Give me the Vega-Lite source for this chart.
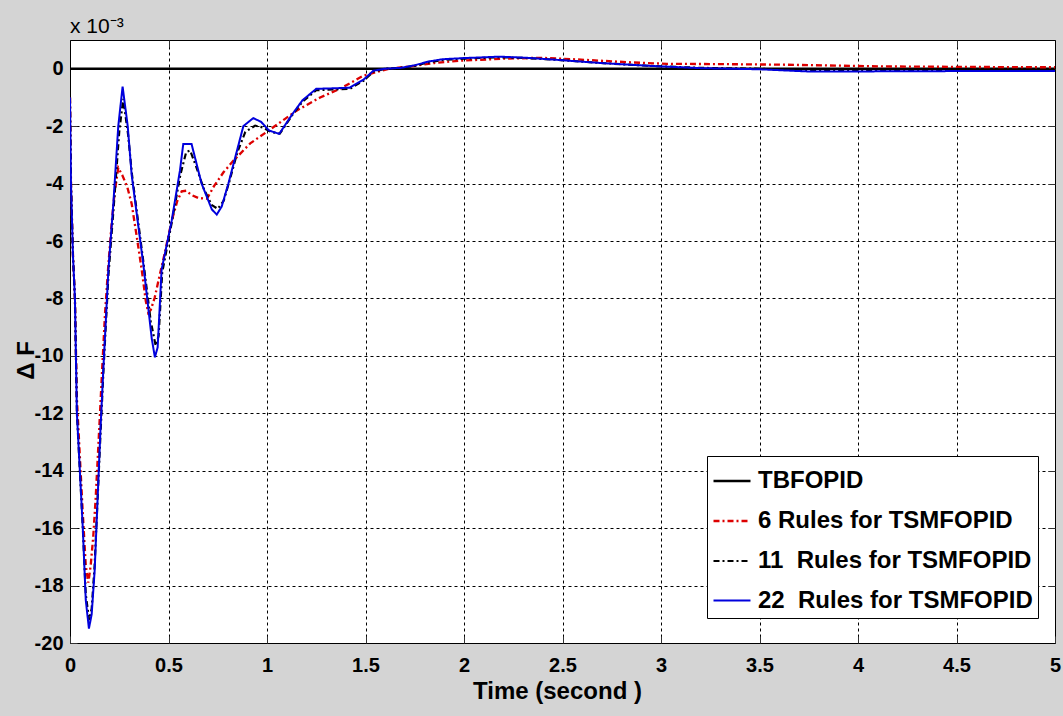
{
  "$schema": "https://vega.github.io/schema/vega-lite/v6.json",
  "width": 985,
  "height": 603,
  "autosize": {"type": "none"},
  "padding": {"left": 70, "top": 40, "right": 8, "bottom": 73},
  "background": "#d4d4d4",
  "title": {
    "text": "x 10⁻³",
    "anchor": "start",
    "frame": "group",
    "baseline": "alphabetic",
    "offset": 7,
    "dy": 21,
    "font": "Liberation Sans, Arial, sans-serif",
    "fontSize": 21,
    "fontWeight": "normal",
    "color": "black"
  },
  "config": {
    "view": {"fill": "white", "stroke": "black", "strokeWidth": 1},
    "axis": {
      "domain": false,
      "grid": true,
      "gridColor": "black",
      "gridDash": [3, 3],
      "gridOpacity": 1,
      "gridWidth": 1,
      "ticks": true,
      "tickColor": "#333333",
      "tickSize": -7,
      "tickWidth": 1,
      "labelFont": "Liberation Sans, Arial, sans-serif",
      "labelFontWeight": "bold",
      "labelFontSize": 20,
      "labelColor": "black",
      "titleFont": "Liberation Sans, Arial, sans-serif",
      "titleFontWeight": "bold",
      "titleFontSize": 24,
      "titleColor": "black"
    },
    "legend": {
      "orient": "none",
      "legendX": 637,
      "legendY": 416,
      "fillColor": "white",
      "strokeColor": "black",
      "padding": 5,
      "symbolType": "stroke",
      "symbolSize": 1369,
      "rowPadding": 8,
      "labelOffset": 6,
      "labelLimit": 500,
      "labelFont": "Liberation Sans, Arial, sans-serif",
      "labelFontWeight": "bold",
      "labelFontSize": 24,
      "labelColor": "black"
    }
  },
  "data": {
    "values": [
      {"s": "TBFOPID", "t": 0, "v": 0},
      {"s": "TBFOPID", "t": 1, "v": 0},
      {"s": "TBFOPID", "t": 2, "v": 0},
      {"s": "TBFOPID", "t": 3, "v": 0},
      {"s": "TBFOPID", "t": 4, "v": 0},
      {"s": "TBFOPID", "t": 5, "v": 0},

      {"s": "6 Rules for TSMFOPID", "t": 0, "v": -1.0},
      {"s": "6 Rules for TSMFOPID", "t": 0.005, "v": -4},
      {"s": "6 Rules for TSMFOPID", "t": 0.015, "v": -6.5},
      {"s": "6 Rules for TSMFOPID", "t": 0.025, "v": -8},
      {"s": "6 Rules for TSMFOPID", "t": 0.035, "v": -11.5},
      {"s": "6 Rules for TSMFOPID", "t": 0.05, "v": -13.5},
      {"s": "6 Rules for TSMFOPID", "t": 0.065, "v": -15.5},
      {"s": "6 Rules for TSMFOPID", "t": 0.08, "v": -17.3},
      {"s": "6 Rules for TSMFOPID", "t": 0.093, "v": -17.9},
      {"s": "6 Rules for TSMFOPID", "t": 0.105, "v": -17.3},
      {"s": "6 Rules for TSMFOPID", "t": 0.118, "v": -16.3},
      {"s": "6 Rules for TSMFOPID", "t": 0.13, "v": -15},
      {"s": "6 Rules for TSMFOPID", "t": 0.145, "v": -13},
      {"s": "6 Rules for TSMFOPID", "t": 0.163, "v": -10.5},
      {"s": "6 Rules for TSMFOPID", "t": 0.178, "v": -8.5},
      {"s": "6 Rules for TSMFOPID", "t": 0.193, "v": -7},
      {"s": "6 Rules for TSMFOPID", "t": 0.21, "v": -5.5},
      {"s": "6 Rules for TSMFOPID", "t": 0.225, "v": -4.4},
      {"s": "6 Rules for TSMFOPID", "t": 0.245, "v": -3.45},
      {"s": "6 Rules for TSMFOPID", "t": 0.265, "v": -3.7},
      {"s": "6 Rules for TSMFOPID", "t": 0.29, "v": -4.1},
      {"s": "6 Rules for TSMFOPID", "t": 0.313, "v": -4.7},
      {"s": "6 Rules for TSMFOPID", "t": 0.34, "v": -5.9},
      {"s": "6 Rules for TSMFOPID", "t": 0.364, "v": -7.0},
      {"s": "6 Rules for TSMFOPID", "t": 0.385, "v": -8.1},
      {"s": "6 Rules for TSMFOPID", "t": 0.397, "v": -8.5},
      {"s": "6 Rules for TSMFOPID", "t": 0.41, "v": -8.4},
      {"s": "6 Rules for TSMFOPID", "t": 0.43, "v": -7.97},
      {"s": "6 Rules for TSMFOPID", "t": 0.455, "v": -7.2},
      {"s": "6 Rules for TSMFOPID", "t": 0.48, "v": -6.45},
      {"s": "6 Rules for TSMFOPID", "t": 0.516, "v": -5.3},
      {"s": "6 Rules for TSMFOPID", "t": 0.545, "v": -4.6},
      {"s": "6 Rules for TSMFOPID", "t": 0.567, "v": -4.27},
      {"s": "6 Rules for TSMFOPID", "t": 0.59, "v": -4.25},
      {"s": "6 Rules for TSMFOPID", "t": 0.617, "v": -4.4},
      {"s": "6 Rules for TSMFOPID", "t": 0.65, "v": -4.5},
      {"s": "6 Rules for TSMFOPID", "t": 0.695, "v": -4.53},
      {"s": "6 Rules for TSMFOPID", "t": 0.73, "v": -4.1},
      {"s": "6 Rules for TSMFOPID", "t": 0.78, "v": -3.6},
      {"s": "6 Rules for TSMFOPID", "t": 0.83, "v": -3.2},
      {"s": "6 Rules for TSMFOPID", "t": 0.915, "v": -2.6},
      {"s": "6 Rules for TSMFOPID", "t": 1.03, "v": -2.05},
      {"s": "6 Rules for TSMFOPID", "t": 1.15, "v": -1.46},
      {"s": "6 Rules for TSMFOPID", "t": 1.27, "v": -1.0},
      {"s": "6 Rules for TSMFOPID", "t": 1.37, "v": -0.7},
      {"s": "6 Rules for TSMFOPID", "t": 1.49, "v": -0.24},
      {"s": "6 Rules for TSMFOPID", "t": 1.62, "v": 0.0},
      {"s": "6 Rules for TSMFOPID", "t": 1.75, "v": 0.1},
      {"s": "6 Rules for TSMFOPID", "t": 1.85, "v": 0.2},
      {"s": "6 Rules for TSMFOPID", "t": 1.98, "v": 0.28},
      {"s": "6 Rules for TSMFOPID", "t": 2.2, "v": 0.35},
      {"s": "6 Rules for TSMFOPID", "t": 2.39, "v": 0.38},
      {"s": "6 Rules for TSMFOPID", "t": 2.55, "v": 0.33},
      {"s": "6 Rules for TSMFOPID", "t": 2.69, "v": 0.28},
      {"s": "6 Rules for TSMFOPID", "t": 2.85, "v": 0.22},
      {"s": "6 Rules for TSMFOPID", "t": 3.03, "v": 0.17},
      {"s": "6 Rules for TSMFOPID", "t": 3.3, "v": 0.16},
      {"s": "6 Rules for TSMFOPID", "t": 3.62, "v": 0.14},
      {"s": "6 Rules for TSMFOPID", "t": 4.13, "v": 0.08},
      {"s": "6 Rules for TSMFOPID", "t": 4.6, "v": 0.06},
      {"s": "6 Rules for TSMFOPID", "t": 5, "v": 0.05},

      {"s": "11\u00a0 Rules for TSMFOPID", "t": 0, "v": -1.0},
      {"s": "11\u00a0 Rules for TSMFOPID", "t": 0.005, "v": -4},
      {"s": "11\u00a0 Rules for TSMFOPID", "t": 0.015, "v": -6.5},
      {"s": "11\u00a0 Rules for TSMFOPID", "t": 0.025, "v": -8},
      {"s": "11\u00a0 Rules for TSMFOPID", "t": 0.035, "v": -12},
      {"s": "11\u00a0 Rules for TSMFOPID", "t": 0.05, "v": -14},
      {"s": "11\u00a0 Rules for TSMFOPID", "t": 0.065, "v": -16},
      {"s": "11\u00a0 Rules for TSMFOPID", "t": 0.08, "v": -18.3},
      {"s": "11\u00a0 Rules for TSMFOPID", "t": 0.097, "v": -19.2},
      {"s": "11\u00a0 Rules for TSMFOPID", "t": 0.11, "v": -18.8},
      {"s": "11\u00a0 Rules for TSMFOPID", "t": 0.125, "v": -17.3},
      {"s": "11\u00a0 Rules for TSMFOPID", "t": 0.14, "v": -15},
      {"s": "11\u00a0 Rules for TSMFOPID", "t": 0.155, "v": -12.7},
      {"s": "11\u00a0 Rules for TSMFOPID", "t": 0.17, "v": -10.5},
      {"s": "11\u00a0 Rules for TSMFOPID", "t": 0.195, "v": -7.2},
      {"s": "11\u00a0 Rules for TSMFOPID", "t": 0.222, "v": -4.8},
      {"s": "11\u00a0 Rules for TSMFOPID", "t": 0.25, "v": -2.2},
      {"s": "11\u00a0 Rules for TSMFOPID", "t": 0.27, "v": -1.05},
      {"s": "11\u00a0 Rules for TSMFOPID", "t": 0.295, "v": -2.3},
      {"s": "11\u00a0 Rules for TSMFOPID", "t": 0.315, "v": -3.7},
      {"s": "11\u00a0 Rules for TSMFOPID", "t": 0.372, "v": -6.7},
      {"s": "11\u00a0 Rules for TSMFOPID", "t": 0.41, "v": -8.8},
      {"s": "11\u00a0 Rules for TSMFOPID", "t": 0.435, "v": -9.65},
      {"s": "11\u00a0 Rules for TSMFOPID", "t": 0.45, "v": -9.3},
      {"s": "11\u00a0 Rules for TSMFOPID", "t": 0.468, "v": -7.1},
      {"s": "11\u00a0 Rules for TSMFOPID", "t": 0.518, "v": -5.3},
      {"s": "11\u00a0 Rules for TSMFOPID", "t": 0.56, "v": -3.7},
      {"s": "11\u00a0 Rules for TSMFOPID", "t": 0.59, "v": -2.9},
      {"s": "11\u00a0 Rules for TSMFOPID", "t": 0.61, "v": -2.85},
      {"s": "11\u00a0 Rules for TSMFOPID", "t": 0.64, "v": -3.4},
      {"s": "11\u00a0 Rules for TSMFOPID", "t": 0.68, "v": -4.2},
      {"s": "11\u00a0 Rules for TSMFOPID", "t": 0.72, "v": -4.75},
      {"s": "11\u00a0 Rules for TSMFOPID", "t": 0.75, "v": -4.88},
      {"s": "11\u00a0 Rules for TSMFOPID", "t": 0.78, "v": -4.6},
      {"s": "11\u00a0 Rules for TSMFOPID", "t": 0.81, "v": -3.9},
      {"s": "11\u00a0 Rules for TSMFOPID", "t": 0.85, "v": -2.9},
      {"s": "11\u00a0 Rules for TSMFOPID", "t": 0.89, "v": -2.2},
      {"s": "11\u00a0 Rules for TSMFOPID", "t": 0.94, "v": -1.98},
      {"s": "11\u00a0 Rules for TSMFOPID", "t": 0.98, "v": -2.05},
      {"s": "11\u00a0 Rules for TSMFOPID", "t": 1.02, "v": -2.2},
      {"s": "11\u00a0 Rules for TSMFOPID", "t": 1.065, "v": -2.26},
      {"s": "11\u00a0 Rules for TSMFOPID", "t": 1.13, "v": -1.6},
      {"s": "11\u00a0 Rules for TSMFOPID", "t": 1.18, "v": -1.15},
      {"s": "11\u00a0 Rules for TSMFOPID", "t": 1.25, "v": -0.75},
      {"s": "11\u00a0 Rules for TSMFOPID", "t": 1.35, "v": -0.72},
      {"s": "11\u00a0 Rules for TSMFOPID", "t": 1.42, "v": -0.7},
      {"s": "11\u00a0 Rules for TSMFOPID", "t": 1.49, "v": -0.42},
      {"s": "11\u00a0 Rules for TSMFOPID", "t": 1.54, "v": -0.1},
      {"s": "11\u00a0 Rules for TSMFOPID", "t": 1.6, "v": 0.0},
      {"s": "11\u00a0 Rules for TSMFOPID", "t": 1.68, "v": 0.03},
      {"s": "11\u00a0 Rules for TSMFOPID", "t": 1.75, "v": 0.1},
      {"s": "11\u00a0 Rules for TSMFOPID", "t": 1.82, "v": 0.22},
      {"s": "11\u00a0 Rules for TSMFOPID", "t": 1.9, "v": 0.31},
      {"s": "11\u00a0 Rules for TSMFOPID", "t": 2.0, "v": 0.35},
      {"s": "11\u00a0 Rules for TSMFOPID", "t": 2.18, "v": 0.4},
      {"s": "11\u00a0 Rules for TSMFOPID", "t": 2.32, "v": 0.37},
      {"s": "11\u00a0 Rules for TSMFOPID", "t": 2.49, "v": 0.3},
      {"s": "11\u00a0 Rules for TSMFOPID", "t": 2.69, "v": 0.2},
      {"s": "11\u00a0 Rules for TSMFOPID", "t": 2.94, "v": 0.1},
      {"s": "11\u00a0 Rules for TSMFOPID", "t": 3.2, "v": 0.03},
      {"s": "11\u00a0 Rules for TSMFOPID", "t": 3.5, "v": 0.0},
      {"s": "11\u00a0 Rules for TSMFOPID", "t": 3.8, "v": -0.06},
      {"s": "11\u00a0 Rules for TSMFOPID", "t": 4.2, "v": -0.06},
      {"s": "11\u00a0 Rules for TSMFOPID", "t": 4.6, "v": -0.05},
      {"s": "11\u00a0 Rules for TSMFOPID", "t": 5, "v": -0.05},

      {"s": "22\u00a0 Rules for TSMFOPID", "t": 0, "v": -1.0},
      {"s": "22\u00a0 Rules for TSMFOPID", "t": 0.005, "v": -4},
      {"s": "22\u00a0 Rules for TSMFOPID", "t": 0.015, "v": -6.5},
      {"s": "22\u00a0 Rules for TSMFOPID", "t": 0.025, "v": -8},
      {"s": "22\u00a0 Rules for TSMFOPID", "t": 0.035, "v": -12},
      {"s": "22\u00a0 Rules for TSMFOPID", "t": 0.05, "v": -14},
      {"s": "22\u00a0 Rules for TSMFOPID", "t": 0.065, "v": -16},
      {"s": "22\u00a0 Rules for TSMFOPID", "t": 0.08, "v": -18.5},
      {"s": "22\u00a0 Rules for TSMFOPID", "t": 0.096, "v": -19.5},
      {"s": "22\u00a0 Rules for TSMFOPID", "t": 0.11, "v": -19},
      {"s": "22\u00a0 Rules for TSMFOPID", "t": 0.125, "v": -17.5},
      {"s": "22\u00a0 Rules for TSMFOPID", "t": 0.14, "v": -15},
      {"s": "22\u00a0 Rules for TSMFOPID", "t": 0.155, "v": -12.5},
      {"s": "22\u00a0 Rules for TSMFOPID", "t": 0.169, "v": -10.5},
      {"s": "22\u00a0 Rules for TSMFOPID", "t": 0.195, "v": -7.0},
      {"s": "22\u00a0 Rules for TSMFOPID", "t": 0.22, "v": -4.7},
      {"s": "22\u00a0 Rules for TSMFOPID", "t": 0.245, "v": -2.0},
      {"s": "22\u00a0 Rules for TSMFOPID", "t": 0.267, "v": -0.62},
      {"s": "22\u00a0 Rules for TSMFOPID", "t": 0.293, "v": -2.0},
      {"s": "22\u00a0 Rules for TSMFOPID", "t": 0.313, "v": -3.7},
      {"s": "22\u00a0 Rules for TSMFOPID", "t": 0.372, "v": -6.8},
      {"s": "22\u00a0 Rules for TSMFOPID", "t": 0.415, "v": -9.4},
      {"s": "22\u00a0 Rules for TSMFOPID", "t": 0.431, "v": -10.05},
      {"s": "22\u00a0 Rules for TSMFOPID", "t": 0.445, "v": -9.7},
      {"s": "22\u00a0 Rules for TSMFOPID", "t": 0.465, "v": -7.0},
      {"s": "22\u00a0 Rules for TSMFOPID", "t": 0.516, "v": -5.3},
      {"s": "22\u00a0 Rules for TSMFOPID", "t": 0.558, "v": -3.55},
      {"s": "22\u00a0 Rules for TSMFOPID", "t": 0.575, "v": -2.62},
      {"s": "22\u00a0 Rules for TSMFOPID", "t": 0.617, "v": -2.62},
      {"s": "22\u00a0 Rules for TSMFOPID", "t": 0.668, "v": -4.0},
      {"s": "22\u00a0 Rules for TSMFOPID", "t": 0.72, "v": -4.9},
      {"s": "22\u00a0 Rules for TSMFOPID", "t": 0.745, "v": -5.08},
      {"s": "22\u00a0 Rules for TSMFOPID", "t": 0.77, "v": -4.8},
      {"s": "22\u00a0 Rules for TSMFOPID", "t": 0.804, "v": -4.0},
      {"s": "22\u00a0 Rules for TSMFOPID", "t": 0.88, "v": -2.0},
      {"s": "22\u00a0 Rules for TSMFOPID", "t": 0.93, "v": -1.72},
      {"s": "22\u00a0 Rules for TSMFOPID", "t": 0.97, "v": -1.85},
      {"s": "22\u00a0 Rules for TSMFOPID", "t": 1.01, "v": -2.15},
      {"s": "22\u00a0 Rules for TSMFOPID", "t": 1.062, "v": -2.27},
      {"s": "22\u00a0 Rules for TSMFOPID", "t": 1.13, "v": -1.57},
      {"s": "22\u00a0 Rules for TSMFOPID", "t": 1.18, "v": -1.1},
      {"s": "22\u00a0 Rules for TSMFOPID", "t": 1.25, "v": -0.7},
      {"s": "22\u00a0 Rules for TSMFOPID", "t": 1.35, "v": -0.68},
      {"s": "22\u00a0 Rules for TSMFOPID", "t": 1.42, "v": -0.66},
      {"s": "22\u00a0 Rules for TSMFOPID", "t": 1.49, "v": -0.38},
      {"s": "22\u00a0 Rules for TSMFOPID", "t": 1.54, "v": -0.07},
      {"s": "22\u00a0 Rules for TSMFOPID", "t": 1.6, "v": 0.0},
      {"s": "22\u00a0 Rules for TSMFOPID", "t": 1.68, "v": 0.03},
      {"s": "22\u00a0 Rules for TSMFOPID", "t": 1.75, "v": 0.12},
      {"s": "22\u00a0 Rules for TSMFOPID", "t": 1.82, "v": 0.25},
      {"s": "22\u00a0 Rules for TSMFOPID", "t": 1.89, "v": 0.33},
      {"s": "22\u00a0 Rules for TSMFOPID", "t": 2.0, "v": 0.37},
      {"s": "22\u00a0 Rules for TSMFOPID", "t": 2.18, "v": 0.42},
      {"s": "22\u00a0 Rules for TSMFOPID", "t": 2.32, "v": 0.38},
      {"s": "22\u00a0 Rules for TSMFOPID", "t": 2.49, "v": 0.3},
      {"s": "22\u00a0 Rules for TSMFOPID", "t": 2.69, "v": 0.2},
      {"s": "22\u00a0 Rules for TSMFOPID", "t": 2.94, "v": 0.1},
      {"s": "22\u00a0 Rules for TSMFOPID", "t": 3.2, "v": 0.02},
      {"s": "22\u00a0 Rules for TSMFOPID", "t": 3.5, "v": -0.02},
      {"s": "22\u00a0 Rules for TSMFOPID", "t": 3.76, "v": -0.1},
      {"s": "22\u00a0 Rules for TSMFOPID", "t": 4.2, "v": -0.09},
      {"s": "22\u00a0 Rules for TSMFOPID", "t": 4.6, "v": -0.08},
      {"s": "22\u00a0 Rules for TSMFOPID", "t": 5, "v": -0.08}
    ]
  },
  "layer": [
    {
      "mark": {"type": "line", "clip": true},
      "encoding": {
        "x": {
          "field": "t",
          "type": "quantitative",
          "scale": {"domain": [0, 5], "nice": false, "zero": false},
          "axis": {
            "values": [0, 0.5, 1, 1.5, 2, 2.5, 3, 3.5, 4, 4.5, 5],
            "labelExpr": "datum.value + ''",
            "labelPadding": 19,
            "labelFlush": false,
            "title": "Time (second )",
            "titleX": 487,
            "titleY": 48,
            "titleBaseline": "middle",
            "titleAnchor": null
          }
        },
        "y": {
          "field": "v",
          "type": "quantitative",
          "scale": {"domain": [-20, 1], "nice": false, "zero": false},
          "axis": {
            "values": [-20, -18, -16, -14, -12, -10, -8, -6, -4, -2, 0],
            "labelExpr": "datum.value + ''",
            "labelPadding": 14,
            "labelFlush": false,
            "title": "Δ F",
            "titleX": -44,
            "titleY": 320,
            "titleAngle": -90,
            "titleBaseline": "middle",
            "titleAlign": "center"
          }
        },
        "color": {
          "field": "s",
          "type": "nominal",
          "title": null,
          "scale": {
            "domain": ["TBFOPID", "6 Rules for TSMFOPID", "11\u00a0 Rules for TSMFOPID", "22\u00a0 Rules for TSMFOPID"],
            "range": ["#000000", "#dd0000", "#000000", "#0000dd"]
          }
        },
        "strokeDash": {
          "field": "s",
          "type": "nominal",
          "title": null,
          "scale": {
            "domain": ["TBFOPID", "6 Rules for TSMFOPID", "11\u00a0 Rules for TSMFOPID", "22\u00a0 Rules for TSMFOPID"],
            "range": [[1, 0], [6, 3, 2, 3], [6, 3, 2, 3], [1, 0]]
          }
        },
        "strokeWidth": {
          "field": "s",
          "type": "nominal",
          "title": null,
          "scale": {
            "domain": ["TBFOPID", "6 Rules for TSMFOPID", "11\u00a0 Rules for TSMFOPID", "22\u00a0 Rules for TSMFOPID"],
            "range": [2.5, 2, 2, 2.8]
          }
        }
      }
    },
    {
      "mark": {"type": "point", "opacity": 0},
      "encoding": {
        "x": {
          "field": "t",
          "type": "quantitative",
          "scale": {"domain": [0, 5], "nice": false, "zero": false},
          "axis": {
            "orient": "top",
            "values": [0.5, 1, 1.5, 2, 2.5, 3, 3.5, 4, 4.5],
            "labels": false,
            "grid": false,
            "title": null
          }
        },
        "y": {
          "field": "v",
          "type": "quantitative",
          "scale": {"domain": [-20, 1], "nice": false, "zero": false},
          "axis": {
            "orient": "right",
            "values": [-18, -16, -14, -12, -10, -8, -6, -4, -2, 0],
            "labels": false,
            "grid": false,
            "title": null
          }
        }
      }
    }
  ],
  "resolve": {"scale": {"x": "independent", "y": "independent"}, "axis": {"x": "independent", "y": "independent"}}
}
